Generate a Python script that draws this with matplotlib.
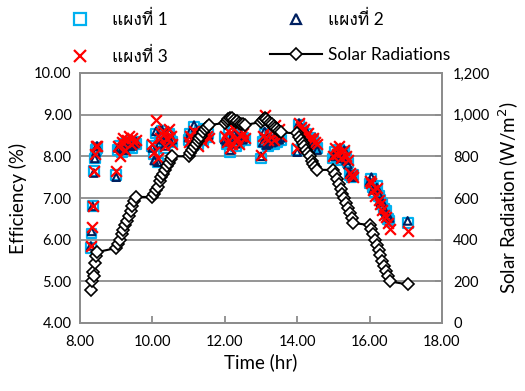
import matplotlib
matplotlib.use("Agg")
import matplotlib.pyplot as plt
from matplotlib import font_manager as fm
from matplotlib.ticker import FuncFormatter, MultipleLocator
from matplotlib.lines import Line2D

# ---------------- data ----------------
time = [8.30, 8.32, 8.35, 8.38, 8.41, 8.44, 8.47,
        9.00, 9.05, 9.10, 9.15, 9.20, 9.25, 9.30, 9.35, 9.40, 9.45, 9.50, 9.55,
        10.00, 10.05, 10.10, 10.15, 10.20, 10.25, 10.30, 10.35, 10.40, 10.45, 10.50, 10.55,
        11.00, 11.05, 11.10, 11.15, 11.20, 11.25, 11.30, 11.35, 11.40, 11.45, 11.50, 11.55,
        12.00, 12.05, 12.10, 12.15, 12.20, 12.25, 12.30, 12.35, 12.40, 12.45, 12.50, 12.55,
        13.00, 13.05, 13.10, 13.15, 13.20, 13.25, 13.30, 13.35, 13.40, 13.45, 13.50, 13.55,
        14.00, 14.05, 14.10, 14.15, 14.20, 14.25, 14.30, 14.35, 14.40, 14.45, 14.50, 14.55,
        15.00, 15.05, 15.10, 15.15, 15.20, 15.25, 15.30, 15.35, 15.40, 15.45, 15.50, 15.55,
        16.00, 16.05, 16.10, 16.15, 16.20, 16.25, 16.30, 16.35, 16.40, 16.45, 16.50, 16.55,
        17.05]

radiation = [160, 200, 245, 225, 290, 320, 340,
             360, 380, 400, 425, 445, 470, 490, 515, 540, 560, 585, 605,
             605, 620, 640, 655, 680, 700, 715, 735, 755, 770, 785, 800,
             800, 815, 830, 845, 860, 875, 890, 900, 915, 930, 940, 950,
             960, 970, 980, 985, 983, 975, 965, 970, 960, 955, 955, 950,
             965, 975, 985, 980, 970, 960, 955, 945, 935, 930, 920, 915,
             910, 895, 880, 865, 850, 830, 815, 800, 780, 765, 750, 735,
             735, 715, 690, 665, 645, 620, 600, 575, 550, 530, 505, 480,
             470, 450, 425, 400, 375, 350, 325, 300, 275, 250, 225, 200,
             185]

eff_panel1 = [5.80, 6.15, 6.80, 7.65, 7.95, 8.15, 8.20,
              7.55, 8.15, 8.25, 8.10, 8.30, 8.20, 8.35, 8.25, 8.30, 8.20, 8.35, 8.30,
              8.25, 8.05, 8.55, 7.85, 8.35, 8.60, 8.45, 8.20, 8.50, 8.55, 8.40, 8.35,
              8.40, 8.55, 8.35, 8.70, 8.45, 8.30, 8.60, 8.50, 8.40, 8.65, 8.45, 8.55,
              8.45, 8.30, 8.55, 8.10, 8.40, 8.60, 8.25, 8.50, 8.35, 8.55, 8.45, 8.40,
              7.95, 8.35, 8.55, 8.30, 8.25, 8.50, 8.40, 8.30, 8.55, 8.35, 8.45, 8.40,
              8.15, 8.75, 8.65, 8.50, 8.40, 8.55, 8.35, 8.45, 8.30, 8.40, 8.25, 8.20,
              7.95, 8.10, 8.00, 8.15, 7.90, 8.05, 8.10, 7.95, 7.85, 7.55, 7.50, 7.55,
              7.35, 7.45, 7.25, 7.15, 7.30, 7.05, 6.95, 6.85, 6.75, 6.70, 6.50, 6.45,
              6.40]

eff_panel2 = [5.85, 6.20, 6.80, 7.60, 7.95, 8.10, 8.25,
              7.50, 8.20, 8.20, 8.15, 8.35, 8.15, 8.30, 8.30, 8.25, 8.25, 8.30, 8.35,
              8.20, 7.90, 8.60, 7.86, 8.30, 8.65, 8.40, 8.25, 8.45, 8.60, 8.35, 8.40,
              8.45, 8.60, 8.30, 8.75, 8.40, 8.35, 8.55, 8.55, 8.45, 8.60, 8.50, 8.50,
              8.40, 8.35, 8.50, 8.15, 8.45, 8.55, 8.30, 8.45, 8.40, 8.50, 8.40, 8.45,
              8.00, 8.33, 8.60, 8.27, 8.30, 8.45, 8.33, 8.35, 8.50, 8.40, 8.40, 8.45,
              8.10, 8.80, 8.60, 8.55, 8.35, 8.60, 8.30, 8.40, 8.35, 8.35, 8.30, 8.15,
              8.00, 8.05, 8.05, 8.10, 7.95, 8.00, 8.15, 7.90, 7.80, 7.60, 7.55, 7.50,
              7.40, 7.50, 7.20, 7.20, 7.25, 7.10, 6.90, 6.90, 6.70, 6.65, 6.55, 6.52,
              6.45]

eff_panel3 = [5.85, 6.30, 6.80, 7.65, 8.05, 8.25, 8.25,
              7.65, 8.25, 8.00, 8.35, 8.45, 8.15, 8.40, 8.50, 8.30, 8.45, 8.35, 8.40,
              8.30, 8.10, 8.87, 7.95, 8.45, 8.55, 8.60, 8.25, 8.45, 8.65, 8.50, 8.30,
              8.35, 8.50, 8.45, 8.60, 8.40, 8.25, 8.55, 8.45, 8.35, 8.60, 8.50, 8.45,
              8.50, 8.35, 8.60, 8.20, 8.30, 8.65, 8.40, 8.45, 8.30, 8.50, 8.55, 8.45,
              8.03, 8.50, 9.00, 8.45, 8.40, 8.70, 8.60, 8.40, 8.75, 8.55, 8.65, 8.50,
              8.20, 8.80, 8.70, 8.60, 8.65, 8.50, 8.55, 8.45, 8.40, 8.45, 8.35, 8.30,
              8.00, 8.20, 8.05, 8.25, 7.95, 8.10, 8.15, 8.00, 7.90, 7.60, 7.55, 7.50,
              7.40, 7.35, 7.20, 7.05, 7.25, 6.95, 6.85, 6.70, 6.60, 6.55, 6.40, 6.25,
              6.20]

labels = ["แผงที่ 1", "แผงที่ 2", "แผงที่ 3", "Solar Radiations"]

# ---------------- fonts ----------------
thai_font = None
try:
    from fontTools.ttLib import TTFont
    for f in fm.fontManager.ttflist:
        try:
            tt = TTFont(f.fname, fontNumber=0, lazy=True)
            cm = tt.getBestCmap()
            if cm and 0x0E41 in cm and 0x0E1C in cm:
                thai_font = f.name
                break
        except Exception:
            pass
except Exception:
    pass

families = ["Lato"]
if thai_font:
    families.append(thai_font)
families.append("DejaVu Sans")
plt.rcParams["font.family"] = families

# ---------------- plot ----------------
fig = plt.figure(figsize=(5.25, 3.91), dpi=100)
ax = fig.add_axes([80 / 525, 1 - 323 / 391, (442 - 80) / 525, (323 - 73) / 391])
ax2 = ax.twinx()

grey = "#8c8c8c"
ax.set_xlim(8, 18)
ax.set_ylim(4, 10)
ax.xaxis.set_major_locator(MultipleLocator(2))
ax.yaxis.set_major_locator(MultipleLocator(1))
ax.xaxis.set_major_formatter(FuncFormatter(lambda v, p: f"{v:.2f}"))
ax.yaxis.set_major_formatter(FuncFormatter(lambda v, p: f"{v:.2f}"))
ax.grid(axis="y", color=grey, linewidth=1.3)
ax.set_axisbelow(True)

ax2.set_ylim(0, 1200)
ax2.yaxis.set_major_locator(MultipleLocator(200))
ax2.yaxis.set_major_formatter(FuncFormatter(lambda v, p: f"{int(v):,}"))

for a in (ax, ax2):
    for s in a.spines.values():
        s.set_color(grey)
        s.set_linewidth(1.3)
ax.tick_params(axis="x", direction="in", length=5, color=grey, width=1.3,
               labelsize=10.5, pad=9)
ax.tick_params(axis="y", length=0, labelsize=10.5, pad=6)
ax2.tick_params(axis="y", direction="in", length=5, color=grey, width=1.3,
                labelsize=10.5, pad=8)

ax.scatter(time, eff_panel1, marker="s", s=50, facecolors="none",
           edgecolors="#00b0f0", linewidths=1.6, zorder=3)
ax.scatter(time, eff_panel2, marker="^", s=30, facecolors="none",
           edgecolors="#002060", linewidths=1.5, zorder=4)
ax.scatter(time, eff_panel3, marker="x", s=60, color="#ff0000",
           linewidths=1.6, zorder=5)

ax2.plot(time, radiation, color="black", linewidth=1.5, marker="D",
         markersize=6.5, markerfacecolor="white", markeredgecolor="black",
         markeredgewidth=1.2)

ax.set_xlabel("Time (hr)", fontsize=13.5, labelpad=3)
ax.set_ylabel("Efficiency (%)", fontsize=13.5, labelpad=5)
ax2.set_ylabel("Solar Radiation (W/m$^2$)", fontsize=13.5, labelpad=5)

h_sq = Line2D([], [], linestyle="none", marker="s", markersize=8,
              markerfacecolor="none", markeredgecolor="#00b0f0", markeredgewidth=1.6)
h_x = Line2D([], [], linestyle="none", marker="x", markersize=8,
             color="#ff0000", markeredgewidth=1.6)
h_tri = Line2D([], [], linestyle="none", marker="^", markersize=7,
               markerfacecolor="none", markeredgecolor="#002060", markeredgewidth=1.6)
h_line = Line2D([], [], color="black", linewidth=1.5, marker="D", markersize=6,
                markerfacecolor="white", markeredgecolor="black", markeredgewidth=1.2)

leg_kw = dict(loc="upper left", frameon=False, fontsize=12.5, handlelength=3.0,
              handletextpad=0.35, labelspacing=1.1, borderpad=0, borderaxespad=0)
leg1 = fig.legend([h_sq, h_x], [labels[0], labels[2]],
                  bbox_to_anchor=(54 / 525, 1 - 10 / 391), **leg_kw)
leg2 = fig.legend([h_tri, h_line], [labels[1], labels[3]],
                  bbox_to_anchor=(270 / 525, 1 - 10 / 391), **leg_kw)

fig.savefig("out.png", dpi=100)
